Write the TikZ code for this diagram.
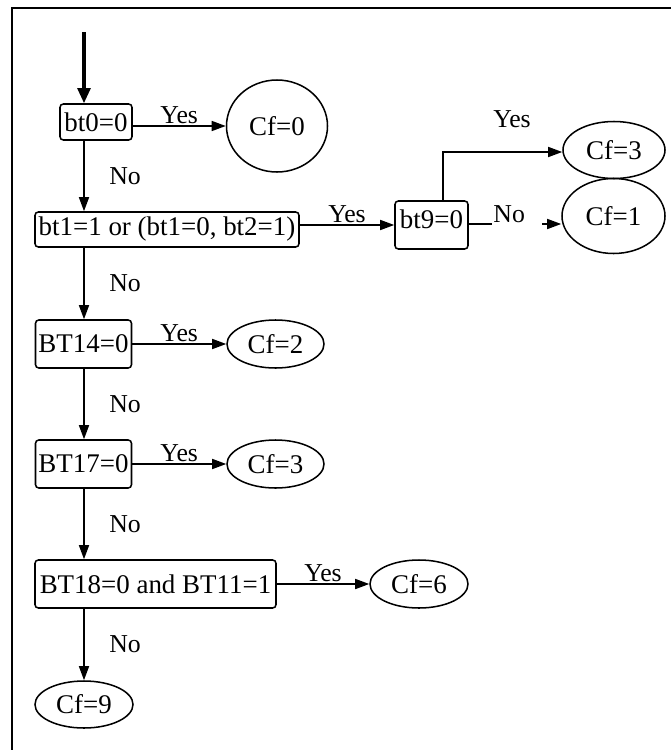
\documentclass[tikz,border=0pt]{standalone}
\usepackage{fontspec}
\setmainfont{Liberation Serif}
\usepackage{tikz}
\usetikzlibrary{arrows.meta,calc,positioning,shapes.geometric}
\newcommand{\boxfont}{\fontsize{23pt}{26pt}\selectfont}
\newcommand{\labfont}{\fontsize{22pt}{25pt}\selectfont}

\begin{document}
\begin{tikzpicture}[
  x=0.03cm, y=-0.03cm,
  test/.style={draw,rounded corners=0.1cm,line width=1.3pt,inner sep=0pt,font=\boxfont},
  result/.style={ellipse,draw,line width=1.3pt,inner sep=0pt,font=\boxfont},
  flow/.style={-{Triangle[length=0.42cm,width=0.3cm]},line width=1.3pt},
  entry/.style={-{Triangle[length=0.45cm,width=0.38cm]},line width=2.8pt},
  lab/.style={font=\labfont,inner sep=1pt}
]
  \useasboundingbox (0,0) rectangle (671,750);
  \draw[line width=1.7pt] (671,8) -- (12,8) -- (12,750);

  \coordinate (start) at (84,32);
  \coordinate (spine) at (84,0);

  \node[test,minimum width=2.16cm,minimum height=1.08cm] (bt0) at (96,122) {bt0=0};
  \node[result,minimum width=3.03cm,minimum height=2.76cm] (cf0) at (277,126) {Cf=0};
  \node[test,minimum width=7.92cm,minimum height=1.05cm] (bt1) at (167,229.5) {bt1=1 or (bt1=0, bt2=1)};
  \node[test,minimum width=2.19cm,minimum height=1.44cm,text depth=0.34cm] (bt9) at (431.5,225) {bt9=0};
  \node[result,minimum width=3.06cm,minimum height=1.71cm] (cf3a) at (614,150) {Cf=3};
  \node[result,minimum width=3.09cm,minimum height=2.25cm] (cf1) at (613.5,216) {Cf=1};
  \node[test,minimum width=2.88cm,minimum height=1.44cm] (bt14) at (83.5,344) {BT14=0};
  \node[result,minimum width=2.91cm,minimum height=1.44cm] (cf2) at (275.5,344) {Cf=2};
  \node[test,minimum width=2.88cm,minimum height=1.44cm] (bt17) at (83.5,464) {BT17=0};
  \node[result,minimum width=2.91cm,minimum height=1.44cm] (cf3b) at (275.5,464) {Cf=3};
  \node[test,minimum width=7.23cm,minimum height=1.44cm] (bt18) at (155.5,584) {BT18=0 and BT11=1};
  \node[result,minimum width=2.94cm,minimum height=1.44cm] (cf6) at (419,584) {Cf=6};
  \node[result,minimum width=2.94cm,minimum height=1.41cm] (cf9) at (84,704.5) {Cf=9};

  \draw[entry] (start) -- (bt0.north -| start);

  % Yes branches
  \draw[flow] (bt0.east |- cf0.west) -- (cf0.west) node[lab,midway,above] {Yes};
  \draw[flow] (bt1.east |- bt9.west) -- (bt9.west) node[lab,midway,above] {Yes};
  \draw[flow] (bt14) -- (cf2) node[lab,midway,above] {Yes};
  \draw[flow] (bt17) -- (cf3b) node[lab,midway,above] {Yes};
  \draw[flow] (bt18) -- (cf6) node[lab,midway,above] {Yes};

  \coordinate (up) at (443,152);
  \draw[flow] (bt9.north -| up) -- (up) -- (up -| cf3a.west);
  \node[lab] (yes9) at (512,119) {Yes};

  \coordinate (nobreak) at (492,224);
  \coordinate (nostub) at (542,224);
  \draw[line width=1.3pt] (bt9.east |- nobreak) -- (nobreak);
  \node[lab,anchor=south west] (no9) at (nobreak) {No};
  \draw[flow] (nostub) -- (nostub -| cf1.west);

  % No branches
  \draw[flow] (bt0.south -| spine) -- (bt1.north -| spine) node[lab,midway,right=0.7cm] {No};
  \draw[flow] (bt1.south -| spine) -- (bt14.north -| spine) node[lab,midway,right=0.7cm] {No};
  \draw[flow] (bt14.south -| spine) -- (bt17.north -| spine) node[lab,midway,right=0.7cm] {No};
  \draw[flow] (bt17.south -| spine) -- (bt18.north -| spine) node[lab,midway,right=0.7cm] {No};
  \draw[flow] (bt18.south -| spine) -- (cf9.north -| spine) node[lab,midway,right=0.7cm] {No};
\end{tikzpicture}
\end{document}
